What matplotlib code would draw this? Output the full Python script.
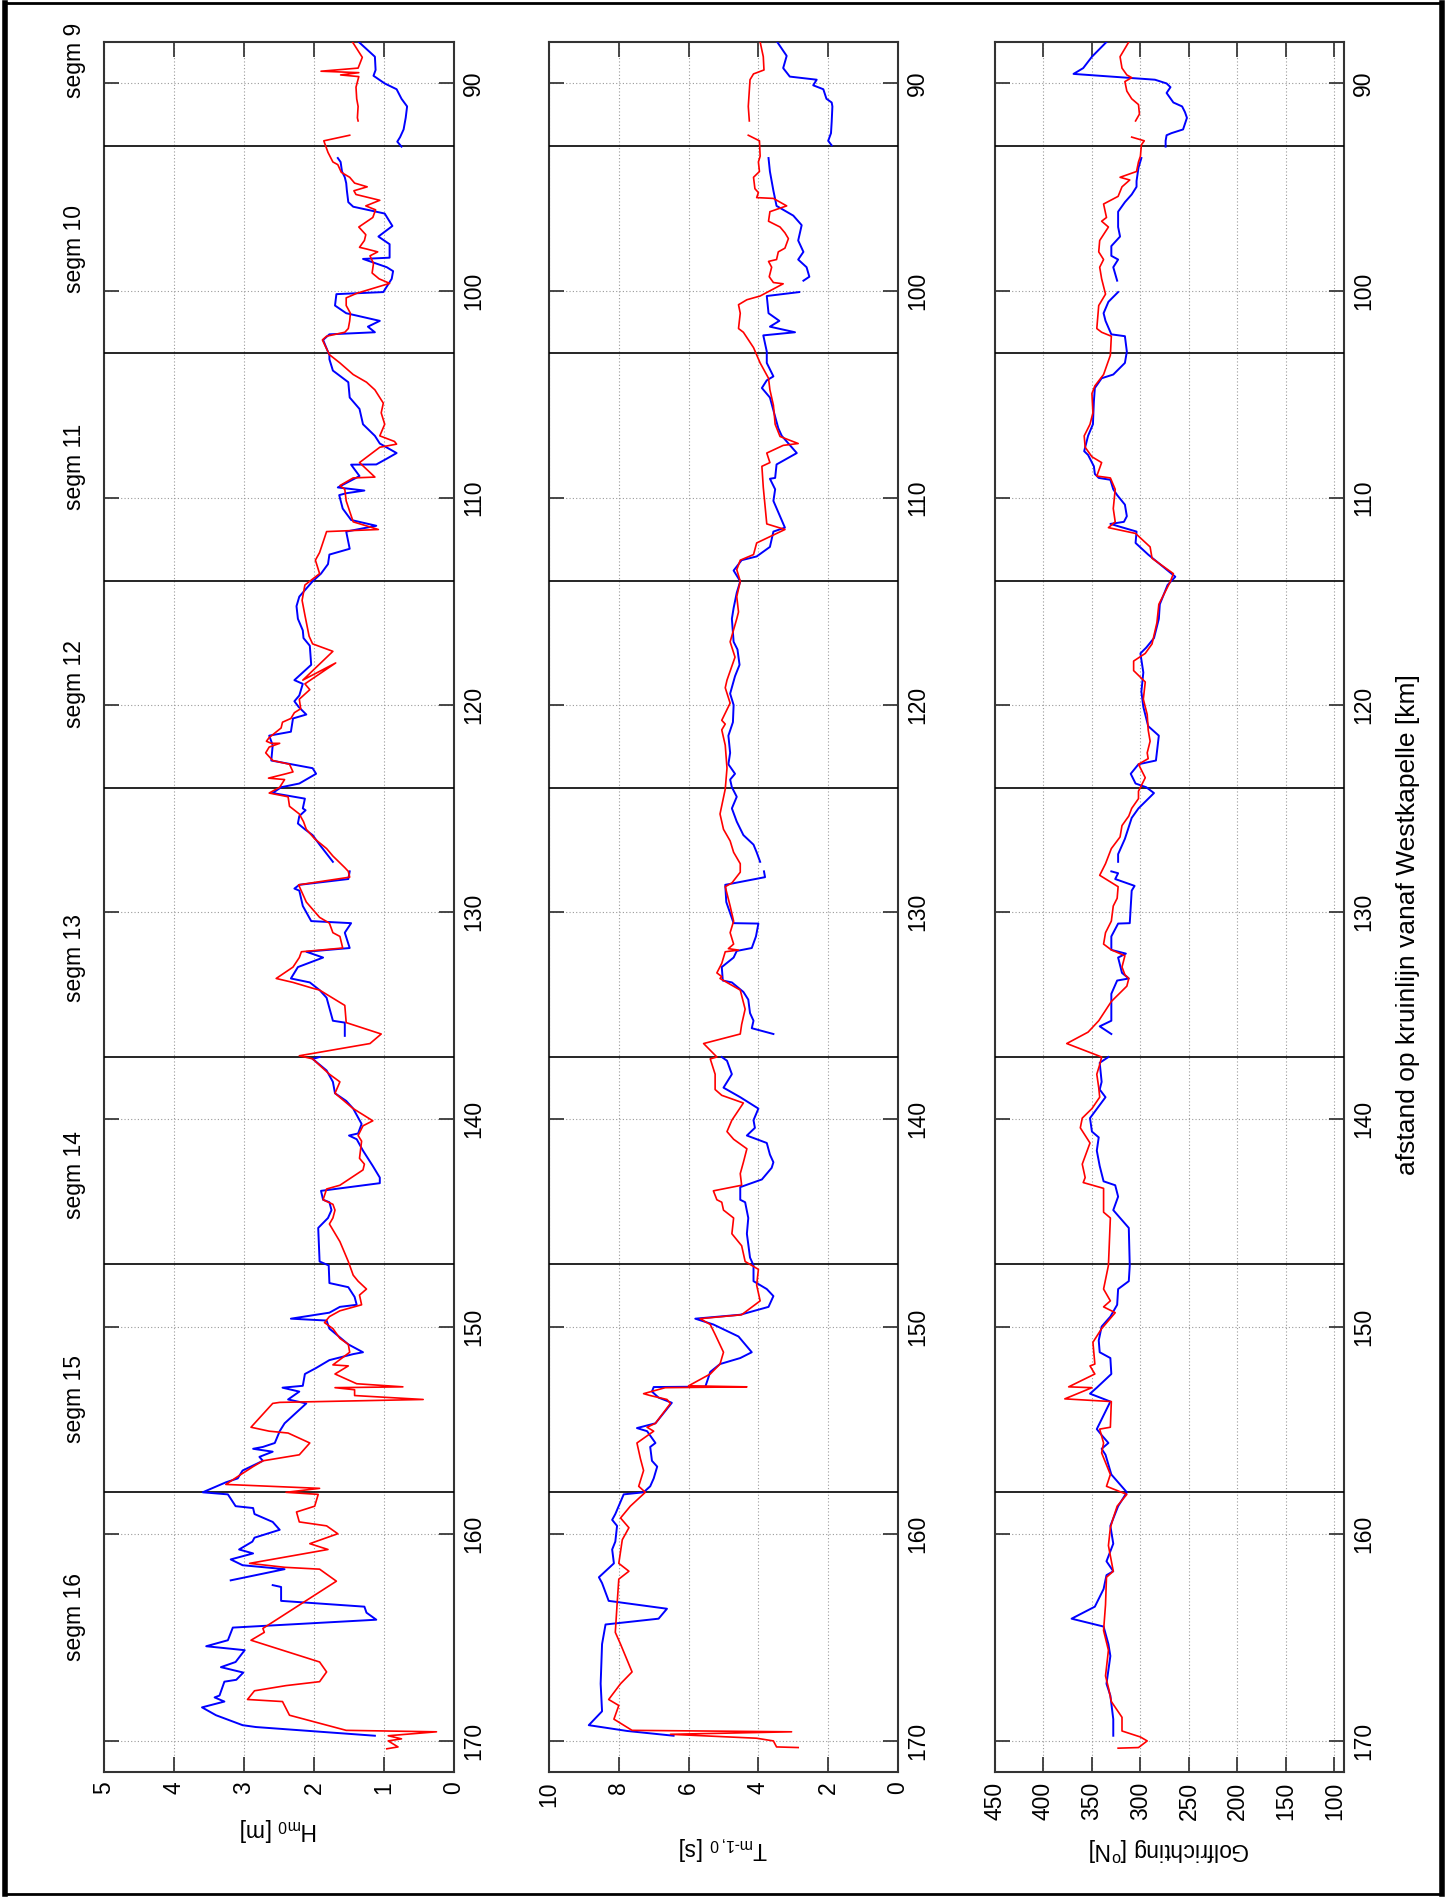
import numpy as np
import matplotlib
matplotlib.use("Agg")
import matplotlib.pyplot as plt
from matplotlib import transforms
from matplotlib.patches import Rectangle
from matplotlib.lines import Line2D

nan = np.nan

# ---------------------------------------------------------------- data
seg_bounds = [93, 103, 114, 124, 137, 147, 158]
seg_names = ["segm 9", "segm 10", "segm 11", "segm 12", "segm 13", "segm 14", "segm 15", "segm 16"]
seg_centres = [88.9, 98, 108.5, 119, 132.2, 142.7, 153.5, 164.0]

km_ticks = [90, 100, 110, 120, 130, 140, 150, 160, 170]
hm0_ticks = [0, 1, 2, 3, 4, 5]
tm_ticks = [0, 2, 4, 6, 8, 10]
dir_ticks = [100, 150, 200, 250, 300, 350, 400, 450]

# significant wave height H_m0 [m]
hm0_blue_km = [
    88.00, 88.71, 89.35, 89.63, 90.00, 90.28, 90.74, 91.11, 91.66, 92.22, 92.59, 92.81, 93.05, nan,
    93.60, 93.79, 94.25, 94.53, 94.81, 95.18, 95.73, 95.95, 96.28, 96.88, 97.39, 97.76, 98.41, 98.47,
    98.87, 99.06, 99.43, 100.07, 100.17, 100.72, 101.09, 101.46, 101.74, 102.01, 102.11, 102.38, 103.12,
    103.31, 103.86, 104.42, 105.16, 105.71, 106.45, 107.01, 107.38, 107.84, 108.11, 108.39, 108.40,
    108.95, 109.50, 109.65, 109.78, 109.87, 110.52, 111.07, 111.35, 111.63, 112.46, 112.74, 113.20,
    113.66, 114.03, 114.77, 115.23,
    115.84, 116.40, 116.77, 117.14, 118.06, 118.80, 118.98, 119.54, 119.82, 120.09, 120.46, 120.65,
    121.29, 121.48, 121.94, 122.68, 123.05, 123.32, 123.79, 123.97, 124.25, 124.52, 124.99, 125.08,
    125.36, 125.72, 126.00, 126.28, 126.74, 127.57, nan,
    128.03, 128.40, 128.68, 128.86, 128.96, 129.70, 130.43, 130.53, 130.99, 131.73, 131.91, 132.19,
    132.65, 133.20, 133.39, 133.76, 134.13, 135.24, 135.33, 135.97, nan,
    136.99, 137.08, 137.64, 138.19, 138.74, 139.11, 139.48, 140.22, 140.68, 140.78, 140.96, 141.51,
    142.25, 142.81, 143.08, 143.45, 143.88,
    144.00, 144.38, 144.76, 145.24, 146.86, 147.05, 147.90, 148.10, 148.57, 148.95, 149.05, 149.33,
    149.62, 149.71, 150.10, 150.86, 151.24, 151.33, 151.62, 152.00, 152.29, 152.86, 152.95, 153.14,
    153.52, 153.71, 154.67, 155.05, 155.62, 155.81, 155.90, 156.04, 156.29, 156.48, 156.95, 157.33,
    157.52, 158.00,
    158.10, 158.67, 158.76, 159.05, 159.43, 159.81, 160.19, 160.38, 160.76, 160.95, 161.24, 161.52,
    161.71, 162.25, nan, 162.48, 162.57, 163.24, 163.52, 163.81, 164.15, 164.53, 165.14, 165.43,
    165.62, 166.19, 166.44, 166.70, 167.05, 167.14, 167.81, 167.90, 168.10, 168.38, 168.76, 169.24,
    169.33, 169.75]
hm0_blue = [
    1.36, 1.13, 1.12, 1.15, 0.99, 0.82, 0.75, 0.67, 0.69, 0.72, 0.77, 0.81, 0.75, nan,
    1.66, 1.62, 1.60, 1.56, 1.54, 1.53, 1.51, 1.44, 0.99, 0.88, 1.08, 0.92, 0.92, 1.30,
    0.96, 0.87, 0.89, 1.01, 1.68, 1.70, 1.54, 1.06, 1.23, 1.13, 1.78, 1.87, 1.78,
    1.78, 1.73, 1.51, 1.49, 1.35, 1.30, 1.13, 1.06, 0.82, 0.96, 1.11, 1.47,
    1.35, 1.66, 1.28, 1.54, 1.64, 1.59, 1.47, 1.11, 1.54, 1.49, 1.78, 1.80,
    1.90, 2.02, 2.21, 2.25,
    2.23, 2.16, 2.15, 2.06, 2.04, 2.28, 2.16, 2.21, 2.28, 2.22, 2.11, 2.30,
    2.33, 2.64, 2.59, 2.61, 2.02, 1.97, 2.21, 2.47, 2.59, 2.13, 2.16, 2.12,
    2.21, 2.23, 2.13, 2.02, 1.92, 1.73, nan,
    1.49, 1.51, 2.21, 2.28, 2.21, 2.16, 2.04, 1.47, 1.56, 1.49, 2.11, 1.87,
    2.23, 2.33, 2.06, 1.92, 1.82, 1.73, 1.56, 1.56, nan,
    1.92, 2.02, 1.82, 1.73, 1.70, 1.54, 1.44, 1.32, 1.37, 1.50, 1.39, 1.30,
    1.16, 1.06, 1.06, 1.90, 1.87,
    1.78, 1.75, 1.80, 1.94, 1.92, 1.79, 1.78, 1.51, 1.42, 1.39, 1.63, 1.78,
    2.33, 1.82, 1.78, 1.51, 1.30, 1.44, 1.78, 1.97, 2.13, 2.16, 2.45, 2.21,
    2.37, 2.11, 2.42, 2.49, 2.56, 2.73, 2.87, 2.59, 2.78, 2.73, 3.02, 3.09,
    3.26, 3.59,
    3.23, 3.12, 2.87, 2.85, 2.59, 2.49, 2.85, 2.88, 3.07, 2.87, 3.19, 3.02,
    2.42, 3.19, nan, 2.59, 2.47, 2.47, 1.28, 1.25, 1.11, 3.16, 3.23, 3.54,
    2.99, 3.12, 3.33, 3.01, 3.11, 3.28, 3.35, 3.42, 3.28, 3.60, 3.40, 3.02,
    2.83, 1.13]

hm0_red_km = [
    88.00, 88.74, 89.26, 89.41, 89.48, 89.59, 89.67, 90.18, 90.74, 91.11, 91.66, 91.81, nan,
    92.50, 92.77, 93.33, 93.79, 93.92, 94.29, 94.53, 94.81, 94.99, 95.18, 95.36, 95.64, 95.91, 96.10,
    96.47, 96.93, 97.30, 97.58, 97.91, 97.99, 98.13, 98.32, 98.69, 99.15, 99.43, 99.65, 100.13, 100.35,
    100.72, 101.09, 101.46, 101.83, 102.01, 102.20, 102.38, 102.94,
    103.09, 103.49, 104.05, 104.42, 104.79, 105.43, 105.90, 106.45, 107.01, 107.28, 107.41, 107.56,
    108.30, 109.00, 109.04, 109.41, 109.59, 110.15, 111.16, 111.53, 111.63, 112.64, 113.01, 113.66,
    114.03, 114.21, 114.95,
    115.66, 116.68, 117.05, 117.41, 118.80, 117.97, 118.98, 119.26, 119.72, 120.18, 120.37, 120.65,
    120.83, 121.11, 121.57, 121.75, 121.85, 121.85, 122.03, 122.31, 122.68, 122.86, 123.23, 123.32,
    123.53, 123.60, 123.97, 124.25, 124.43, 124.89, 125.26, 125.63, 126.00, 126.46, 126.93, 127.29,
    127.85, 128.03, 128.31, 128.68, 129.51, 130.25, 130.53, 130.99, 131.17, 131.73, 131.91, 132.19,
    132.65, 133.20, 133.39, 133.67, 133.76, 134.50, 135.33, 135.88, 136.34, 136.93,
    137.08, 137.82, 138.19, 138.74, 139.48, 140.07, 140.31, 140.78, 141.05, 141.88, 142.16, 142.44,
    143.18, 143.36, 143.88,
    144.10, 144.38, 144.76, 145.05, 145.90, 146.86, 147.52, 147.81, 148.19, 148.48, 148.95, 149.24,
    149.52, 149.81, 150.10, 150.57, 150.86, 151.24, 151.85, 151.90, 152.29, 152.76, 152.91, 152.95,
    153.05, 153.33, 153.52, 153.66, 153.71, 154.86, 155.05, 155.14, 155.62, 156.19, 156.48, 156.76,
    157.24, 157.62, 157.81, 158.00, 158.10, 158.67, 158.95, 159.43, 159.62, 160.00, 160.48, 160.76,
    161.43, 161.62, 161.71, 162.29, 164.57, 164.76, 165.14, 166.19, 166.67, 167.14, 167.33, 167.58,
    168.00, 168.10, 168.76, 169.49, 169.56, 169.75, 169.90, 170.00, 170.29, 170.38]
hm0_red = [
    1.45, 1.31, 1.37, 1.90, 1.36, 1.62, 1.36, 1.40, 1.39, 1.37, 1.38, 1.37, nan,
    1.49, 1.86, 1.80, 1.73, 1.66, 1.61, 1.49, 1.42, 1.24, 1.43, 1.40, 1.06, 1.26, 1.12,
    1.16, 1.36, 1.26, 1.28, 1.35, 1.25, 1.09, 1.20, 1.15, 1.17, 1.07, 0.92, 1.39, 1.54,
    1.54, 1.48, 1.49, 1.51, 1.56, 1.82, 1.88, 1.80,
    1.78, 1.63, 1.44, 1.25, 1.13, 1.01, 1.04, 0.99, 1.06, 0.85, 0.82, 1.06,
    1.35, 1.13, 1.44, 1.63, 1.56, 1.54, 1.44, 1.08, 1.82, 1.92, 1.98, 1.92,
    2.06, 2.13, 2.17,
    2.13, 2.07, 2.02, 1.73, 2.16, 1.69, 2.13, 2.06, 2.21, 2.19, 2.28, 2.33,
    2.45, 2.47, 2.64, 2.68, 2.61, 2.49, 2.64, 2.69, 2.59, 2.35, 2.30, 2.40,
    2.65, 2.42, 2.49, 2.64, 2.37, 2.35, 2.21, 2.15, 2.11, 1.99, 1.82, 1.73,
    1.56, 1.51, 1.49, 2.22, 2.11, 1.92, 1.78, 1.73, 1.63, 1.59, 2.18, 2.21,
    2.30, 2.54, 2.30, 2.02, 1.92, 1.56, 1.54, 1.04, 1.20, 2.21,
    2.02, 1.78, 1.63, 1.70, 1.44, 1.16, 1.30, 1.37, 1.32, 1.35, 1.28, 1.30,
    1.63, 1.82, 1.87,
    1.73, 1.70, 1.73, 1.78, 1.63, 1.51, 1.44, 1.37, 1.25, 1.35, 1.32, 1.63,
    1.78, 1.85, 1.73, 1.63, 1.51, 1.49, 1.73, 1.51, 1.70, 1.39, 0.73, 1.70,
    1.42, 1.42, 0.44, 2.49, 2.59, 2.90, 2.64, 2.37, 2.06, 2.21, 2.73, 2.87,
    3.09, 3.26, 1.92, 2.40, 1.94, 1.99, 2.25, 2.21, 1.82, 1.66, 2.06, 1.80,
    2.92, 2.42, 1.92, 1.68, 2.73, 2.71, 2.90, 1.92, 1.82, 1.92, 2.40, 2.85,
    2.95, 2.45, 2.35, 1.54, 0.25, 0.94, 0.75, 0.94, 0.80, 0.96]

# spectral wave period T_m-1,0 [s]
tm_blue_km = [
    88.00, 88.67, 89.26, 89.67, 89.82, 90.09, 90.28, 90.74, 90.92, 91.11, 91.85, 92.40, 92.77, 92.99, nan,
    93.60, 94.25, 95.18, 95.91, 96.38, 96.84, 97.58, 98.13, 98.50, 98.87, 99.33, 99.52, nan,
    100.07, 100.26, 101.09, 101.46, 101.74, 102.01, 102.16, 102.94, 103.49, 104.14, 104.33, 104.70,
    105.16, 106.08, 106.64, 107.01, 107.84, 108.30, 108.39, 109.04, 109.08, 109.59, 110.15, 110.89,
    111.44, 111.63, 112.37, 112.83, 113.01, 113.51, 114.03, 114.58, 115.32,
    115.84, 116.95, 117.32, 118.06, 118.61, 119.45, 120.00, 120.83, 121.48, 122.31, 122.86, 123.32,
    123.60, 123.97, 124.43, 124.99, 125.63, 126.28, 126.74, 127.11, 127.57, nan,
    128.03, 128.31, 128.68, 129.51, 130.53, 130.55, 131.17, 131.73, 131.87, 132.19, 132.65, 133.30,
    133.39, 133.85, 134.22, 134.87, 135.24, 135.60, 135.88, nan,
    136.99, 137.17, 137.82, 138.47, 138.93, 139.48, 140.04, 140.41, 140.78, 141.14, 141.70, 142.07,
    142.34, 142.90, 143.27, 143.88,
    144.00, 144.76, 145.52, 146.67, 147.05, 147.81, 148.19, 148.53, 149.05, 149.43, 149.62, 149.90,
    150.48, 151.24, 151.52, 151.81, 152.19, 152.90, 152.92, 153.14, 153.43, 153.68, 154.67, 154.90,
    155.05, 155.62, 155.81, 156.48, 156.76, 157.33, 157.71, 158.00, 158.10, 159.05, 159.33, 159.62,
    160.38, 160.76, 161.43, 162.10, 162.38, 163.24, 163.62, 164.10, 164.38, 165.33, 167.24, 168.57,
    169.24, 169.52, 169.75]
tm_blue = [
    3.46, 3.19, 3.29, 3.10, 2.33, 2.43, 2.14, 2.05, 1.90, 1.88, 1.90, 1.92, 2.00, 1.90, nan,
    3.71, 3.67, 3.57, 3.48, 3.00, 2.76, 2.86, 2.71, 2.86, 2.62, 2.54, 2.71, nan,
    2.83, 3.76, 3.71, 3.40, 3.67, 2.95, 3.86, 3.76, 3.76, 3.57, 3.76, 3.90,
    3.67, 3.52, 3.43, 3.33, 2.90, 3.38, 3.48, 3.52, 3.67, 3.52, 3.57, 3.38,
    3.24, 3.57, 3.67, 4.05, 4.48, 4.71, 4.52, 4.62, 4.71,
    4.76, 4.71, 4.60, 4.54, 4.67, 4.81, 4.71, 4.73, 4.86, 4.81, 4.86, 4.67,
    4.81, 4.76, 4.62, 4.76, 4.62, 4.43, 4.14, 4.05, 3.95, nan,
    3.84, 3.81, 4.95, 4.92, 4.71, 4.00, 4.07, 4.19, 4.62, 4.71, 5.05, 5.02,
    4.76, 4.43, 4.29, 4.24, 4.14, 4.19, 3.57, nan,
    5.05, 4.90, 4.76, 5.00, 4.52, 4.00, 4.14, 4.10, 4.33, 3.76, 3.67, 3.57,
    3.62, 3.90, 4.52, 4.52,
    4.38, 4.29, 4.33, 4.24, 4.14, 4.14, 3.76, 3.57, 3.71, 4.52, 5.81, 5.29,
    4.57, 4.19, 4.52, 5.10, 5.38, 5.52, 7.00, 7.05, 6.86, 6.48, 6.95, 7.48,
    7.19, 6.95, 7.10, 7.05, 6.90, 7.00, 7.10, 7.29, 7.86, 8.10, 8.19, 8.05,
    8.10, 8.19, 8.14, 8.57, 8.48, 8.29, 6.62, 6.86, 8.38, 8.48, 8.52, 8.48,
    8.86, 7.76, 6.43]

tm_red_km = [
    88.00, 88.71, 89.35, 89.54, 89.82, 90.37, 91.11, 91.81, nan,
    92.50, 92.77, 93.51, 93.79, 94.25, 94.53, 95.08, 95.27, 95.51, 95.55, 95.91, 96.19, 96.65, 96.93,
    97.21, 97.49, 97.95, 98.13, 98.50, 98.59, 98.87, 99.33, 99.61, 99.67, 100.26, 100.44, 100.68,
    101.09, 101.83, 102.01, 102.75, 103.49, 104.23, 104.79, 105.53, 106.45, 107.04, 107.38, 107.47,
    107.84, 108.30, 108.48, 109.50, 111.26, 111.53, 112.18, 112.74, 113.01, 113.47, 114.03, 114.77,
    115.51,
    115.84, 116.95, 117.69, 118.80, 119.17, 119.91, 120.74, 120.92, 121.20, 121.94, 123.05, 124.06,
    125.26, 126.00, 126.56, 127.11, 127.66, 128.07, 128.59, 128.77, 129.70, 130.43, 130.99, 131.54,
    131.76, 131.83, 131.91, 132.47, 132.93, 133.11, 133.20, 133.76, 134.68, 135.42, 135.88, 136.34,
    136.99, 137.08, 137.82, 138.56, 138.84, 139.21, 140.04, 140.59, 140.96, 141.42, 142.07, 142.62,
    143.18, 143.45, 143.88,
    144.00, 144.38, 144.76, 145.52, 146.10, 146.86, 147.24, 148.00, 148.76, 149.43, 149.62, 149.90,
    150.38, 151.24, 151.81, 152.29, 152.86, 152.91, 152.95, 153.24, 153.33, 153.52, 153.71, 154.67,
    154.86, 155.05, 155.62, 156.38, 156.95, 157.71, 158.00, 158.67, 159.24, 159.71, 160.29, 161.43,
    161.81, 162.19, 163.43, 164.76, 165.33, 166.67, 167.24, 168.00, 168.29, 168.95, 169.49, 169.56,
    169.68, 169.87, 170.00, 170.29, 170.32]
tm_red = [
    3.95, 3.86, 3.84, 4.14, 4.24, 4.26, 4.29, 4.26, nan,
    4.29, 3.97, 3.95, 4.00, 3.97, 4.14, 4.10, 4.00, 4.05, 3.57, 3.19, 3.67, 3.71, 3.38,
    3.24, 3.14, 3.24, 3.43, 3.48, 3.71, 3.62, 3.69, 3.57, 3.29, 3.95, 4.33, 4.57,
    4.52, 4.57, 4.43, 4.14, 3.95, 3.71, 3.67, 3.57, 3.52, 3.38, 2.86, 3.29,
    3.76, 3.67, 3.90, 3.86, 3.76, 3.24, 4.05, 4.14, 4.52, 4.62, 4.52, 4.62,
    4.57,
    4.62, 4.81, 4.67, 4.90, 4.95, 4.81, 5.05, 4.95, 5.05, 4.95, 4.90, 4.95,
    5.10, 5.00, 4.81, 4.71, 4.52, 4.52, 4.76, 4.95, 4.81, 4.71, 4.81, 4.71,
    4.86, 4.57, 4.95, 5.05, 5.19, 5.05, 5.10, 4.52, 4.38, 4.48, 4.52, 5.57,
    5.19, 5.38, 5.24, 5.24, 5.05, 4.43, 4.76, 4.90, 4.71, 4.33, 4.43, 4.52,
    4.48, 5.29, 5.19,
    5.05, 5.00, 4.71, 4.76, 4.48, 4.38, 4.00, 4.05, 3.95, 4.48, 5.67, 5.38,
    5.24, 5.00, 5.10, 5.38, 6.00, 4.33, 6.67, 7.29, 7.10, 6.62, 6.52, 6.95,
    7.19, 7.00, 7.48, 7.38, 7.29, 7.43, 7.24, 7.67, 7.95, 7.71, 7.90, 8.00,
    7.71, 8.00, 8.05, 8.10, 7.95, 7.62, 7.95, 8.29, 8.00, 8.14, 7.62, 3.05,
    6.52, 4.05, 3.57, 3.48, 2.86]

# wave direction [deg N]
dir_blue_km = [
    88.00, 88.71, 89.26, 89.54, 89.82, 90.00, 90.18, 90.46, 90.92, 91.11, 91.39, 91.66, 92.22, 92.40,
    92.50, 92.77, 93.05, nan,
    93.60, 94.07, 94.71, 94.99, 95.36, 95.73, 96.19, 96.93, 97.39, 97.85, 98.32, 98.50, 98.87, 99.52, nan,
    100.07, 100.54, 101.09, 101.46, 102.11, 102.20, 102.94, 103.49, 104.05, 104.23, 104.70, 105.34,
    106.45, 107.01, 107.75, 107.93, 108.48, 108.85, 109.04, 109.13, 109.59, 109.87, 110.33, 110.89,
    111.16, 111.26, 111.63, 112.18, 112.74, 113.66, 113.81, 114.21, 115.14,
    115.84, 116.77, 117.23, 117.51, 118.43, 119.35, 120.09, 121.02, 121.48, 122.68, 122.86, 123.32,
    123.79, 123.97, 124.25, 124.99, 125.45, 126.46, 127.20, 127.57, nan,
    128.03, 128.12, 128.40, 128.73, 128.96, 130.53, 130.55, 131.17, 131.82, 132.00, 132.19, 132.93,
    133.20, 133.30, 133.94, 135.24, 135.51, 135.88, nan,
    136.99, 137.27, 138.19, 138.56, 138.93, 139.94, 140.59, 140.87, 141.51, 142.25, 142.99, 143.18,
    143.73,
    144.38, 145.24, 147.05, 147.81, 148.19, 148.95, 149.52, 150.00, 150.67, 151.24, 151.52, 152.29,
    152.95, 153.24, 153.62, 154.29, 154.95, 155.24, 155.62, 155.90, 156.19, 157.14, 158.00, 158.67,
    159.62, 160.48, 161.33, 161.81, 162.00, 162.67, 163.52, 164.10, 164.48, 165.33, 165.90, 167.24,
    167.81, 168.95, 169.52, 169.75]
dir_blue = [
    335, 350, 359, 369, 285, 273, 269, 273, 266, 257, 254, 252, 256, 268,
    273, 274, 274, nan,
    299, 302, 304, 304, 309, 316, 323, 323, 321, 330, 330, 323, 328, 324, nan,
    323, 333, 338, 336, 330, 316, 314, 316, 328, 340, 347, 348,
    349, 354, 358, 354, 348, 347, 343, 331, 328, 324, 316, 314,
    317, 331, 304, 305, 292, 268, 264, 272, 280,
    281, 286, 294, 300, 297, 299, 297, 292, 281, 284, 302, 310,
    305, 294, 286, 302, 309, 316, 323, 323, nan,
    330, 323, 326, 306, 309, 311, 323, 330, 330, 315, 323, 319,
    312, 324, 330, 330, 342, 330, nan,
    333, 342, 340, 342, 336, 352, 350, 343, 345, 342, 338, 326,
    323,
    328, 312, 311, 312, 323, 324, 331, 340, 343, 342, 331, 330,
    345, 352, 331, 338, 345, 340, 333, 340, 336, 330, 314, 323,
    331, 328, 335, 328, 335, 338, 347, 371, 338, 333, 331, 335,
    331, 328, 328, 328]

dir_red_km = [
    88.00, 88.71, 89.26, 89.59, 89.72, 89.91, 90.37, 90.74, 91.02, 91.48, 91.81, nan,
    92.59, 92.77, 92.96, 93.51, 93.79, 94.25, 94.53, 94.66, 94.99, 95.45, 95.82, 96.47, 96.65, 96.93,
    97.58, 98.13, 98.50, 98.87, 99.43, 100.17, 100.72, 101.83, 102.01, 102.20, 103.12, 104.05, 104.60,
    104.97, 105.90, 106.45, 107.01, 107.56, 108.02, 108.30, 108.95, 109.04, 109.59, 110.52, 111.16,
    111.44, 111.72, 112.37, 112.92, 113.66, 114.03, 115.14,
    116.03, 117.05, 117.51, 117.88, 118.34, 118.89, 119.72, 120.46, 121.20, 121.75, 122.31, 122.59,
    122.86, 123.51, 124.16, 124.52, 124.99, 125.36, 125.82, 126.37, 126.93, 127.66, 128.22, 128.77,
    129.33, 129.70, 130.43, 130.99, 131.54, 131.82, 132.10, 132.65, 133.02, 133.20, 133.57, 134.31,
    135.24, 135.79, 136.34, 136.99,
    137.36, 137.82, 138.47, 138.93, 139.48, 139.94, 140.41, 140.78, 141.14, 142.16, 142.81,
    143.05, 143.33, 144.48, 144.76, 147.05, 148.19, 148.76, 149.05, 149.33, 150.10, 150.76, 151.81,
    151.90, 152.29, 152.91, 152.95, 153.49, 153.62, 154.86, 154.95, 155.62, 156.10, 157.14, 157.71,
    158.10, 158.67, 159.24, 159.71, 160.57, 161.81, 162.10, 163.43, 164.67, 165.62, 166.86, 167.43,
    168.10, 168.86, 169.52, 169.81, 170.00, 170.32, 170.35]
dir_red = [
    312, 321, 319, 314, 309, 316, 314, 309, 302, 301, 305, nan,
    309, 296, 299, 300, 302, 304, 321, 311, 319, 323, 338, 335, 340, 333,
    342, 343, 338, 342, 340, 336, 343, 345, 340, 330, 331, 338, 347,
    350, 349, 352, 358, 357, 350, 340, 345, 331, 326, 328, 326,
    333, 305, 290, 288, 266, 269, 281,
    283, 288, 295, 307, 307, 295, 297, 293, 292, 290, 293, 292,
    302, 295, 302, 302, 309, 312, 319, 321, 330, 336, 342, 323,
    324, 328, 330, 336, 338, 330, 316, 319, 316, 312, 314, 330,
    343, 354, 376, 340,
    342, 345, 343, 342, 350, 360, 362, 357, 352, 360, 357,
    359, 338, 338, 331, 333, 338, 331, 338, 326, 340, 349, 347,
    352, 347, 374, 350, 378, 330, 331, 342, 338, 340, 331, 335,
    314, 324, 328, 331, 333, 328, 335, 336, 338, 333, 336, 333,
    330, 319, 319, 300, 293, 302, 323]

# ---------------------------------------------------------------- layout
W, H = 1454, 1897
FONT = "Liberation Sans"
FS = 16.5

plt.rcParams["font.family"] = [FONT, "DejaVu Sans"]
plt.rcParams["mathtext.fontset"] = "custom"
plt.rcParams["mathtext.rm"] = FONT
plt.rcParams["mathtext.it"] = FONT + ":italic"
plt.rcParams["mathtext.bf"] = FONT + ":bold"

fig = plt.figure(figsize=(W / 100, H / 100), dpi=100)
fig.patch.set_facecolor("white")

Y_TOP, Y_BOT = 42, 1772
KM_MIN, KM_MAX = 88, 171.5


def px_axes(x0, x1):
    return [x0 / W, 1 - Y_BOT / H, (x1 - x0) / W, (Y_BOT - Y_TOP) / H]


panels = [
    dict(box=(104, 454), xlim=(5, 0), ticks=hm0_ticks,
         blue=(hm0_blue, hm0_blue_km), red=(hm0_red, hm0_red_km),
         label=r"H$_{\mathrm{m0}}$ [m]", label_y=1830),
    dict(box=(549, 898), xlim=(10, 0), ticks=tm_ticks,
         blue=(tm_blue, tm_blue_km), red=(tm_red, tm_red_km),
         label=r"T$_{\mathrm{m\text{-}1,0}}$ [s]", label_y=1848),
    dict(box=(995, 1344), xlim=(450, 90), ticks=dir_ticks,
         blue=(dir_blue, dir_blue_km), red=(dir_red, dir_red_km),
         label=r"Golfrichting [$^{\mathrm{o}}$N]", label_y=1849),
]

axes = []
for p in panels:
    ax = fig.add_axes(px_axes(*p["box"]))
    axes.append(ax)
    ax.set_xlim(*p["xlim"])
    ax.set_ylim(KM_MAX, KM_MIN)
    ax.set_xticks(p["ticks"])
    ax.set_yticks(km_ticks)
    ax.grid(True, which="major", linestyle=(0, (1, 2)), color="#9a9a9a", linewidth=0.8)

    ax.tick_params(axis="both", direction="in", length=11, width=1.3, color="#3a3a3a",
                   top=True, bottom=True, left=True, right=True, labelsize=FS)
    ax.tick_params(axis="x", labelbottom=True, labeltop=False, labelrotation=90, pad=7)
    ax.tick_params(axis="y", labelleft=False, labelright=True, labelrotation=90, pad=6)
    for lab in ax.get_yticklabels():
        lab.set_verticalalignment("center")
    for s in ax.spines.values():
        s.set_linewidth(1.5)
        s.set_color("#333333")

    for b in seg_bounds:
        ax.axhline(b, color="black", linewidth=1.2, zorder=3)

    bv, bk = p["blue"]
    rv, rk = p["red"]
    ax.plot(bv, bk, color="#0000ff", linewidth=1.4, zorder=4)
    ax.plot(rv, rk, color="#ff0000", linewidth=1.2, zorder=5)

    xc = (p["box"][0] + p["box"][1]) / 2
    fig.text(xc / W, 1 - p["label_y"] / H, p["label"], rotation=180,
             ha="center", va="center", fontsize=FS)

# segment names along the top panel edge
seg_tr = transforms.blended_transform_factory(fig.transFigure, axes[0].transData)
for name, c in zip(seg_names, seg_centres):
    axes[0].text(74 / W, c, name, transform=seg_tr, rotation=90,
                 ha="center", va="center", fontsize=FS, clip_on=False)

# distance label next to the right-hand panel
fig.text(1408 / W, 1 - 925 / H, "afstand op kruinlijn vanaf Westkapelle [km]",
         rotation=90, ha="center", va="center", fontsize=19)

# page frame
fig.add_artist(Rectangle((4 / W, 3 / H), 1438 / W, 1891 / H, transform=fig.transFigure,
                         fill=False, edgecolor="black", linewidth=2.0))
fig.add_artist(Line2D([5 / W, 5 / W], [3 / H, 1 - 3 / H], transform=fig.transFigure,
                      color="black", linewidth=4.0))
fig.add_artist(Line2D([1442 / W, 1442 / W], [3 / H, 1 - 3 / H], transform=fig.transFigure,
                      color="black", linewidth=4.0))

fig.savefig("out.png", dpi=100)
